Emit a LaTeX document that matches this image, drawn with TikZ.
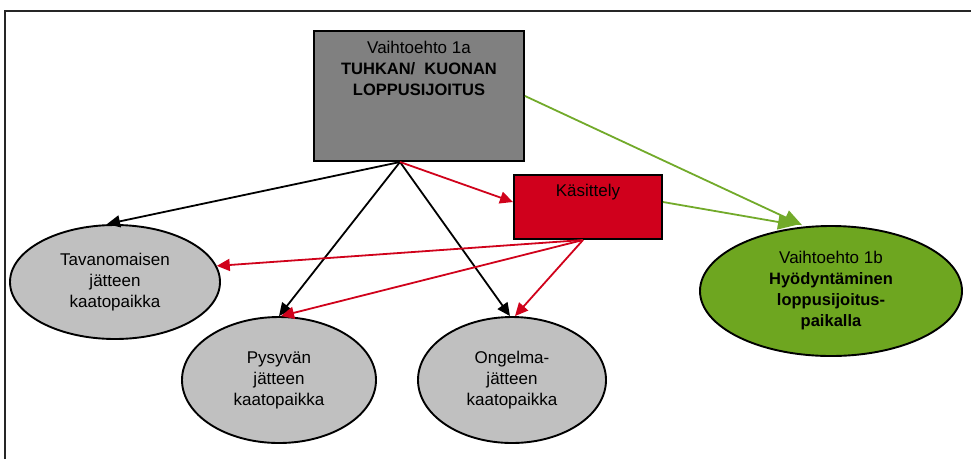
\documentclass[tikz,border=0pt]{standalone}
\usepackage{fontspec}
\setmainfont{Liberation Sans}
\usetikzlibrary{arrows.meta,shapes.geometric}
\definecolor{boxgray}{HTML}{808080}
\definecolor{lgray}{HTML}{C0C0C0}
\definecolor{redfill}{HTML}{D0001C}
\definecolor{redline}{HTML}{D0021B}
\definecolor{grnfill}{HTML}{6EA620}
\definecolor{grnline}{HTML}{72AA2A}
\newcommand\mybold[1]{{\fontsize{16.5}{21}\selectfont\bfseries #1}}
\tikzset{
  lbl/.style={font=\fontsize{17}{21}\selectfont},
  boxshape/.style={rectangle, draw=black, line width=2pt, inner sep=0pt},
  txt/.style={lbl, align=center, inner sep=0pt},
  ell/.style={ellipse, draw=black, line width=1.9pt, fill=lgray, inner sep=0pt, align=center, lbl},
  blk/.style={line width=1.8pt, black, -{Triangle[length=13pt,width=12pt]}},
  redarr/.style={line width=1.8pt, redline, -{Triangle[length=13pt,width=12pt]}},
  grnarr/.style={line width=1.8pt, grnline, -{Triangle[length=18pt,width=15pt]}},
}
\begin{document}
\begin{tikzpicture}[x=1pt,y=-1pt]
\useasboundingbox (0,0) rectangle (971,459);
\draw[line width=2.2pt, black!85] (5,459) -- (5,11) -- (971,11);

\node[boxshape, fill=boxgray, minimum width=210pt, minimum height=130pt] (g) at (419,96) {};
\node[txt, anchor=north] (gt) at (419,41) {Vaihtoehto 1a\\\mybold{TUHKAN/~~KUONAN}\\\mybold{LOPPUSIJOITUS}};

\node[boxshape, fill=redfill, minimum width=148pt, minimum height=64pt] (k) at (588,207) {};
\node[txt, anchor=north] (kt) at (588,184) {Käsittely};

\node[ell, minimum width=210pt, minimum height=114pt] (t) at (115,282) {Tavanomaisen\\jätteen\\kaatopaikka};
\node[ell, minimum width=194pt, minimum height=126pt] (p) at (279,380) {Pysyvän\\jätteen\\kaatopaikka};
\node[ell, minimum width=188pt, minimum height=126pt] (o) at (512,380) {Ongelma-\\jätteen\\kaatopaikka};
\node[ell, fill=grnfill, minimum width=262pt, minimum height=130pt] (v) at (831,291) {Vaihtoehto 1b\\\mybold{Hyödyntäminen}\\\mybold{loppusijoitus-}\\\mybold{paikalla}};

\coordinate (gs) at ([xshift=-19pt]g.south);
\coordinate (ks) at ([xshift=-5pt]k.south);

\draw[blk] (gs) -- ([xshift=-8pt]t.north);
\draw[blk] (gs) -- (p.north);
\draw[blk] (gs) -- ([xshift=-2pt]o.north);

\draw[redarr] (gs) -- ([yshift=5pt]k.west);
\draw[redarr] (ks) -- (t.9);
\draw[redarr] (ks) -- ([xshift=2pt]p.north);
\draw[redarr] (ks) -- ([xshift=3pt]o.north);

\draw[grnarr] (g.east) -- ([xshift=-29pt]v.north);
\draw[grnarr] ([yshift=5pt]k.east) -- ([xshift=-35pt]v.north);
\end{tikzpicture}
\end{document}
